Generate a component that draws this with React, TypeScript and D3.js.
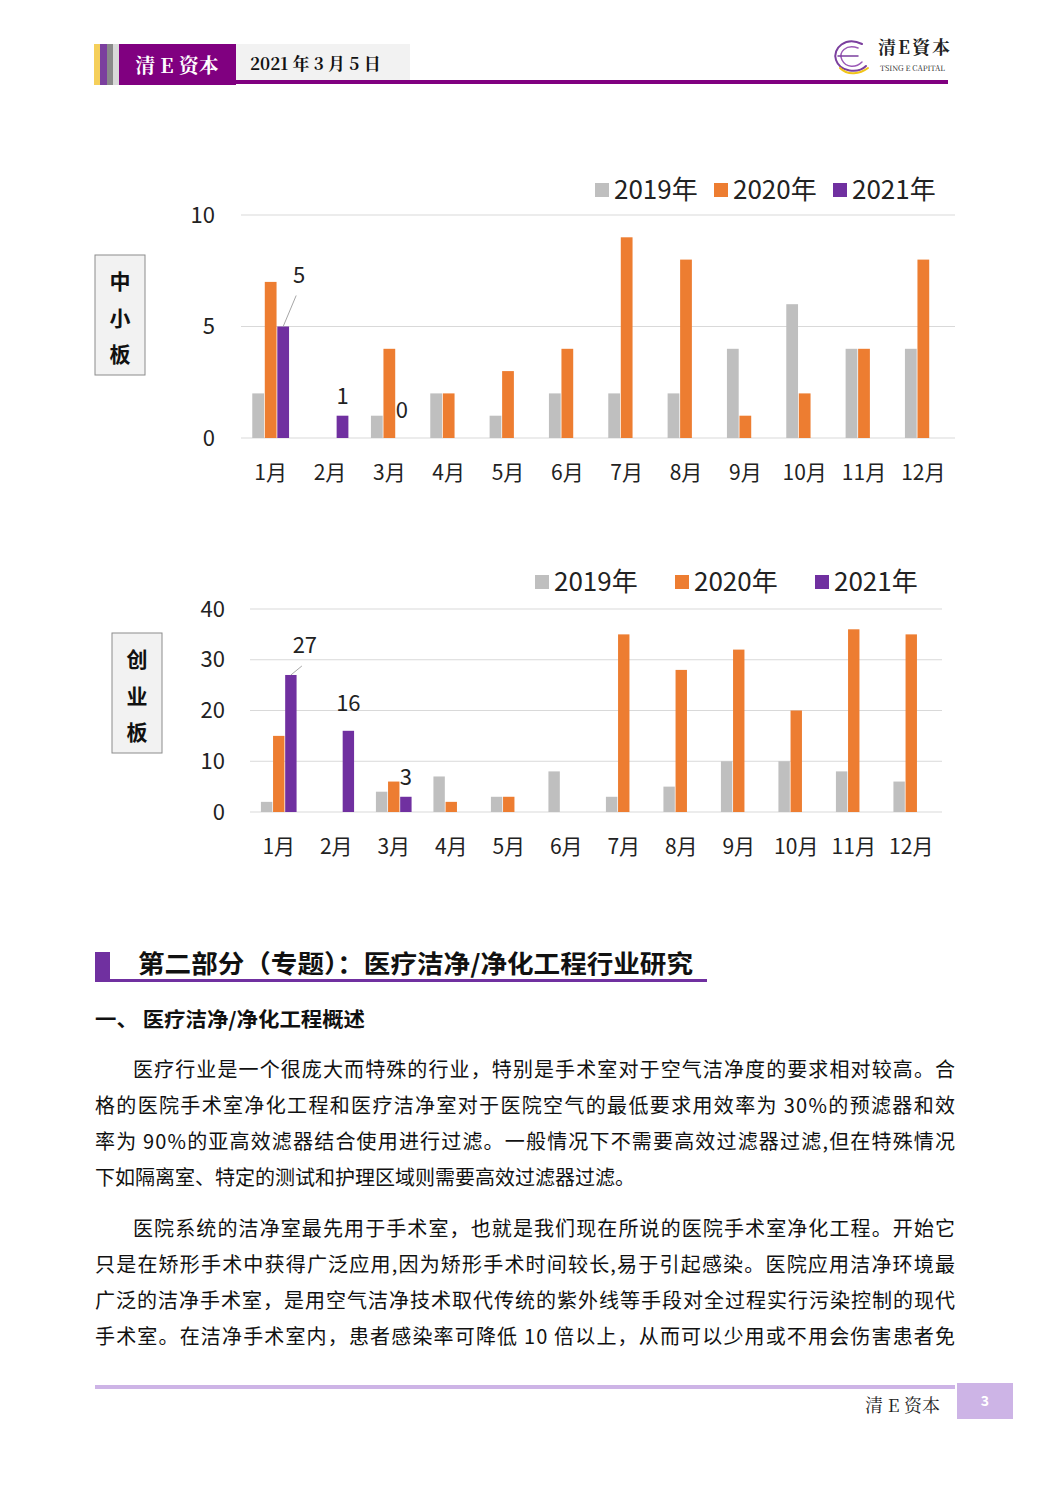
import React from "react";
import * as d3 from "d3";

const months = ["1月", "2月", "3月", "4月", "5月", "6月", "7月", "8月", "9月", "10月", "11月", "12月"];
const seriesNames = ["2019年", "2020年", "2021年"];
const seriesColors = ["#bfbfbf", "#ed7d31", "#7030a0"];

// 中小板
const sme2019 = [2, 0, 1, 2, 1, 2, 2, 2, 4, 6, 4, 4];
const sme2020 = [7, 0, 4, 2, 3, 4, 9, 8, 1, 2, 4, 8];
const sme2021 = [5, 1, 0, null, null, null, null, null, null, null, null, null];
const smeTicks = [0, 5, 10];

// 创业板
const gem2019 = [2, 0, 4, 7, 3, 8, 3, 5, 10, 10, 8, 6];
const gem2020 = [15, 0, 6, 2, 3, 0, 35, 28, 32, 20, 36, 35];
const gem2021 = [27, 16, 3, null, null, null, null, null, null, null, null, null];
const gemTicks = [0, 10, 20, 30, 40];

const paragraphs = [
  { indent: true, lines: [
    "医疗行业是一个很庞大而特殊的行业，特别是手术室对于空气洁净度的要求相对较高。合",
    "格的医院手术室净化工程和医疗洁净室对于医院空气的最低要求用效率为 30%的预滤器和效",
    "率为 90%的亚高效滤器结合使用进行过滤。一般情况下不需要高效过滤器过滤,但在特殊情况",
    "下如隔离室、特定的测试和护理区域则需要高效过滤器过滤。",
  ] },
  { indent: true, lines: [
    "医院系统的洁净室最先用于手术室，也就是我们现在所说的医院手术室净化工程。开始它",
    "只是在矫形手术中获得广泛应用,因为矫形手术时间较长,易于引起感染。医院应用洁净环境最",
    "广泛的洁净手术室，是用空气洁净技术取代传统的紫外线等手段对全过程实行污染控制的现代",
    "手术室。在洁净手术室内，患者感染率可降低  10  倍以上，从而可以少用或不用会伤害患者免",
  ] },
];

const SANS = "'Noto Sans CJK SC', 'Noto Sans', sans-serif";
const SERIF = "'Noto Serif CJK SC', 'DejaVu Serif', 'Liberation Serif', serif";

type ChartProps = {
  data: (number | null)[][];
  ticks: number[];
  yMax: number;
  xRange: [number, number];
  yRange: [number, number];
  tickRight: number;
  monthY: number;
  legendX: number[];
  legendY: number;
  boxX: number;
  boxY: number;
  boxLabel: string[];
  labelOffsets: { i: number; dx: number; dy: number; leader?: boolean }[];
};

function BarChart(p: ChartProps) {
  const x0 = d3.scaleBand<string>().domain(months).range(p.xRange).paddingInner(0.38).paddingOuter(0.19);
  const x1 = d3.scaleBand<string>().domain(seriesNames).range([0, x0.bandwidth()]).paddingInner(0.06);
  const y = d3.scaleLinear().domain([0, p.yMax]).range(p.yRange);
  return (
    <g>
      {p.ticks.map((t) => (
        <g key={t}>
          <line x1={p.xRange[0]} x2={p.xRange[1] + 2} y1={y(t)} y2={y(t)} stroke="#d9d9d9" strokeWidth={1} />
          <text x={p.tickRight} y={y(t)} dy="0.35em" textAnchor="end" fontSize={22} fill="#222" fontFamily={SANS}>{t}</text>
        </g>
      ))}
      {p.data.map((vals, si) =>
        vals.map((v, mi) =>
          v === null ? null : (
            <rect key={si + "-" + mi} x={(x0(months[mi]) ?? 0) + (x1(seriesNames[si]) ?? 0)} y={y(v)}
              width={x1.bandwidth()} height={y(0) - y(v)} fill={seriesColors[si]} />
          )
        )
      )}
      {p.labelOffsets.map((l) => {
        const v = p.data[2][l.i] as number;
        const cx = (x0(months[l.i]) ?? 0) + (x1(seriesNames[2]) ?? 0) + x1.bandwidth() / 2;
        const ty = y(v);
        return (
          <g key={"lab" + l.i}>
            {l.leader ? (
              <line x1={cx} y1={ty} x2={cx + l.dx - 3} y2={ty + l.dy + 13} stroke="#a6a6a6" strokeWidth={1} />
            ) : null}
            <text x={cx + l.dx} y={ty + l.dy} textAnchor="middle" fontSize={22} fill="#222" fontFamily={SANS}>{v}</text>
          </g>
        );
      })}
      {months.map((m) => (
        <text key={m} x={(x0(m) ?? 0) + x0.bandwidth() / 2} y={p.monthY} dy="0.35em" textAnchor="middle"
          fontSize={21} fill="#222" fontFamily={SANS}>{m}</text>
      ))}
      {seriesNames.map((s, i) => (
        <g key={s}>
          <rect x={p.legendX[i]} y={p.legendY - 7} width={14} height={14} fill={seriesColors[i]} />
          <text x={p.legendX[i] + 19} y={p.legendY} dy="0.35em" fontSize={26} fill="#222" fontFamily={SANS}>{s}</text>
        </g>
      ))}
      <rect x={p.boxX} y={p.boxY} width={50} height={120} fill="#f2f2f2" stroke="#8c8c8c" strokeWidth={1} />
      {p.boxLabel.map((c, i) => (
        <text key={c} x={p.boxX + 25} y={p.boxY + 27 + i * 36.5} dy="0.35em" textAnchor="middle" fontSize={21}
          fontWeight="bold" fill="#111" fontFamily={SANS}>{c}</text>
      ))}
    </g>
  );
}

export default function App() {
  const textLeft = 95;
  const textRight = 955;
  const indentW = 38;
  const lineStarts = [1070, 1229];
  const lineH = 36;
  return (
    <svg width={1051} height={1486} style={{ position: "absolute", left: 0, top: 0, background: "#fff" }}
      xmlns="http://www.w3.org/2000/svg">
      <rect x={0} y={0} width={1051} height={1486} fill="#fff" />
      {/* header */}
      <rect x={94} y={44} width={6} height={41} fill="#f5cf5a" />
      <rect x={100} y={44} width={7} height={41} fill="#7b3f9e" />
      <rect x={107} y={44} width={6} height={41} fill="#8a8a8a" />
      <rect x={113} y={44} width={6} height={41} fill="#d9d9d9" />
      <rect x={119} y={44} width={117} height={41} fill="#800080" />
      <rect x={236} y={44} width={174} height={38} fill="#f2f2f2" />
      <rect x={236} y={80} width={712} height={4} fill="#800080" />
      <text x={177} y={66} dy="0.35em" textAnchor="middle" fontSize={20} fontWeight="bold" fill="#fff" fontFamily={SERIF}>清 E 资本</text>
      <text x={250} y={64} dy="0.35em" fontSize={17} fontWeight="bold" fill="#111" fontFamily={SERIF}>2021 年 3 月 5 日</text>
      {/* logo */}
      <g fill="none" strokeLinecap="round">
        <path d="M862,44 C846,36 832,48 836,60 C840,72 858,74 866,66" stroke="#7b3f9e" strokeWidth={2} />
        <path d="M858,48 C846,44 838,52 842,60 C846,68 856,68 862,62" stroke="#9b59b6" strokeWidth={1.5} />
        <path d="M838,56 L858,56" stroke="#7b3f9e" strokeWidth={1.5} />
        <path d="M840,68 C848,76 860,74 868,68" stroke="#f0c419" strokeWidth={2} />
      </g>
      <text x={878} y={54} fontSize={18} fill="#222" fontFamily={SERIF} fontWeight="bold" letterSpacing={2}>清E資本</text>
      <text x={880} y={71} fontSize={7.5} fill="#222" fontFamily={SERIF}>TSING E CAPITAL</text>

      {/* chart 1 */}
      <BarChart data={[sme2019, sme2020, sme2021]} ticks={smeTicks} yMax={10}
        xRange={[241, 953]} yRange={[438, 215]} tickRight={215} monthY={473}
        legendX={[595, 714, 833]} legendY={190} boxX={95} boxY={255} boxLabel={["中", "小", "板"]}
        labelOffsets={[{ i: 0, dx: 16, dy: -44, leader: true }, { i: 1, dx: 0, dy: -12 }, { i: 2, dx: 0, dy: -20 }]} />

      {/* chart 2 */}
      <BarChart data={[gem2019, gem2020, gem2021]} ticks={gemTicks} yMax={40}
        xRange={[250, 940]} yRange={[812, 609]} tickRight={225} monthY={847}
        legendX={[535, 675, 815]} legendY={582} boxX={112} boxY={633} boxLabel={["创", "业", "板"]}
        labelOffsets={[{ i: 0, dx: 14, dy: -22, leader: true }, { i: 1, dx: 0, dy: -20 }, { i: 2, dx: 0, dy: -12 }]} />

      {/* section title */}
      <rect x={95} y={952} width={15} height={29} fill="#7030a0" />
      <rect x={95} y={979} width={612} height={3} fill="#7030a0" />
      <text x={138} y={964} dy="0.35em" fontSize={25} fontWeight="bold" fill="#111" fontFamily={SANS}
        textLength={555} lengthAdjust="spacingAndGlyphs">第二部分（专题）：医疗洁净/净化工程行业研究</text>
      <text x={95} y={1020} dy="0.35em" fontSize={20} fontWeight="bold" fill="#111" fontFamily={SANS}
        textLength={270} lengthAdjust="spacingAndGlyphs">一、  医疗洁净/净化工程概述</text>

      {/* paragraphs */}
      {paragraphs.map((para, pi) =>
        para.lines.map((ln, li) => {
          const x = li === 0 && para.indent ? textLeft + indentW : textLeft;
          const last = pi === 0 && li === para.lines.length - 1;
          return (
            <text key={pi + "-" + li} x={x} y={lineStarts[pi] + li * lineH} dy="0.35em" fontSize={20}
              fill="#111" fontFamily={SANS} textLength={last ? undefined : textRight - x}
              lengthAdjust="spacing">{ln}</text>
          );
        })
      )}

      {/* footer */}
      <rect x={95} y={1385} width={860} height={4} fill="#cdb4e6" />
      <rect x={957} y={1383} width={56} height={36} fill="#cdb4e6" />
      <text x={985} y={1401} dy="0.35em" textAnchor="middle" fontSize={14} fontWeight="bold" fill="#fff" fontFamily={SANS}>3</text>
      <text x={940} y={1406} dy="0.35em" textAnchor="end" fontSize={18} fill="#222" fontFamily={SERIF}>清 E 资本</text>
    </svg>
  );
}
